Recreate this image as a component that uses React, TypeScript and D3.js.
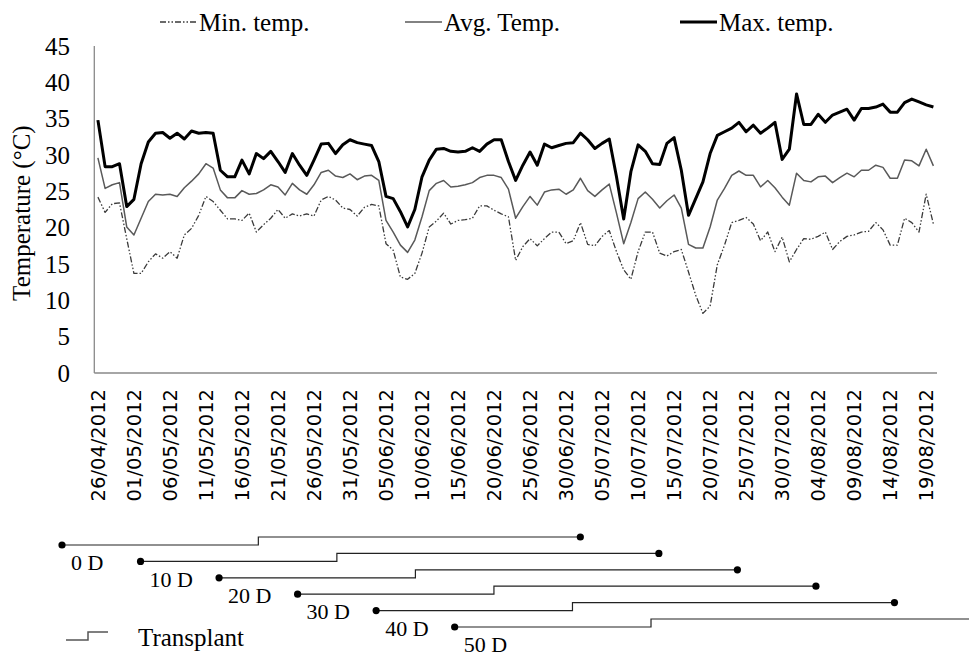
import * as d3 from "d3";

// daily series, 26/04/2012 .. 20/08/2012
const maxTemp = [
  34.8, 28.4, 28.4, 28.8, 22.9, 23.9, 28.8, 31.8, 33.0, 33.1, 32.3, 33.0, 32.2, 33.3, 33.0, 33.1, 33.0, 27.9, 27.0, 27.0,
  29.3, 27.4, 30.2, 29.5, 30.5, 29.1, 27.6, 30.2, 28.6, 27.2, 29.3, 31.5, 31.6, 30.2, 31.4, 32.1, 31.7, 31.5, 31.3, 29.1,
  24.3, 24.0, 22.2, 20.1, 22.5, 27.0, 29.3, 30.8, 30.9, 30.5, 30.4, 30.5, 31.0, 30.5, 31.5, 32.1, 32.1, 29.1, 26.5, 28.6,
  30.4, 28.6, 31.5, 31.0, 31.3, 31.6, 31.7, 33.0, 32.1, 30.9, 31.6, 32.2, 27.0, 21.2, 27.7, 31.4, 30.5, 28.8, 28.7, 31.6,
  32.4, 27.9, 21.7, 24.0, 26.3, 30.2, 32.7, 33.2, 33.7, 34.5, 33.2, 34.1, 33.0, 33.7, 34.5, 29.4, 30.8, 38.4, 34.2, 34.2,
  35.6, 34.5, 35.5, 35.9, 36.3, 34.8, 36.4, 36.4, 36.6, 37.0, 35.9, 35.9, 37.2, 37.7, 37.3, 36.9, 36.6,
];

const avgTemp = [
  29.6, 25.4, 25.9, 26.2, 20.1, 19.0, 21.3, 23.6, 24.6, 24.5, 24.6, 24.3, 25.5, 26.4, 27.4, 28.8, 28.2, 25.2, 24.1, 24.1,
  25.1, 24.6, 24.7, 25.2, 25.9, 25.6, 24.5, 26.1, 25.2, 24.6, 25.9, 27.6, 27.9, 27.1, 26.9, 27.4, 26.6, 27.1, 27.2, 26.5,
  21.0, 19.4, 17.6, 16.6, 18.3, 21.5, 25.1, 26.1, 26.5, 25.6, 25.7, 25.9, 26.2, 26.9, 27.2, 27.2, 26.9, 25.3, 21.3, 22.9,
  24.3, 23.1, 24.9, 25.2, 25.3, 24.6, 25.2, 26.8, 25.1, 24.3, 25.2, 26.0, 22.0, 17.8, 20.7, 24.0, 24.9, 23.9, 22.7, 23.7,
  24.5, 22.7, 17.7, 17.2, 17.2, 20.1, 23.8, 25.4, 27.2, 27.8, 27.2, 27.2, 25.6, 26.5, 25.5, 24.2, 23.1, 27.5, 26.5, 26.3,
  27.0, 27.1, 26.2, 26.9, 27.5, 27.0, 27.9, 27.9, 28.6, 28.3, 26.8, 26.8, 29.3, 29.2, 28.5, 30.8, 28.5,
];

const minTemp = [
  24.2, 22.1, 23.3, 23.4, 18.5, 13.7, 13.7, 15.3, 16.4, 15.8, 16.7, 15.8, 19.0, 19.9, 21.7, 24.3, 23.6, 22.4, 21.2, 21.2,
  21.0, 22.0, 19.4, 20.4, 21.3, 22.5, 21.3, 21.9, 21.6, 21.9, 21.6, 23.8, 24.3, 23.8, 22.7, 22.5, 21.6, 22.8, 23.2, 23.0,
  17.8, 16.9, 13.2, 12.9, 13.7, 16.5, 20.1, 20.9, 22.0, 20.5, 21.0, 21.1, 21.3, 23.0, 23.0, 22.4, 21.9, 21.5, 15.5, 17.4,
  18.5, 17.5, 18.5, 19.4, 19.4, 17.8, 18.2, 20.7, 17.7, 17.5, 18.8, 19.6, 16.7, 14.2, 12.9, 16.7, 19.4, 19.4, 16.5, 16.1,
  16.7, 17.0, 13.9, 10.7, 8.2, 9.2, 14.9, 17.6, 20.7, 21.0, 21.4, 20.5, 18.2, 19.4, 16.7, 18.7, 15.3, 17.0, 18.5, 18.4,
  18.8, 19.4, 17.0, 18.1, 18.8, 19.0, 19.4, 19.5, 20.7, 19.7, 17.6, 17.6, 21.3, 20.7, 19.4, 24.6, 20.5,
];

const tickLabels = [
  "26/04/2012", "01/05/2012", "06/05/2012", "11/05/2012", "16/05/2012", "21/05/2012",
  "26/05/2012", "31/05/2012", "05/06/2012", "10/06/2012", "15/06/2012", "20/06/2012",
  "25/06/2012", "30/06/2012", "05/07/2012", "10/07/2012", "15/07/2012", "20/07/2012",
  "25/07/2012", "30/07/2012", "04/08/2012", "09/08/2012", "14/08/2012", "19/08/2012",
];

const yTicks = [0, 5, 10, 15, 20, 25, 30, 35, 40, 45];

// transplant schedule (days from first sowing)
const sowingLabels = ["0 D", "10 D", "20 D", "30 D", "40 D", "50 D"];
const sowingDay = [0, 10, 20, 30, 40, 50];
const transplantAfter = 25;
const endAfter = 66;

const W = 969;
const H = 657;
const serif = "'Liberation Serif', 'Times New Roman', serif";
const fs = 25;

const parse = d3.timeParse("%d/%m/%Y");
const startDate = parse(tickLabels[0]) as Date;

export default function App() {
  const idx = d3.range(maxTemp.length);
  const x = d3.scalePoint<number>().domain(idx).range([94.3, 937]).padding(0.5);
  const y = d3.scaleLinear().domain([0, 45]).range([373, 46]);

  const line = d3
    .line<number>()
    .x((_d, i) => x(i) as number)
    .y((d) => y(d));

  const series = [
    { label: "Min. temp.", data: minTemp, stroke: "#3a3a3a", width: 1.3, dash: "6,2,1.5,2,1.5,2", lx: 160 },
    { label: "Avg. Temp.", data: avgTemp, stroke: "#595959", width: 1.5, dash: undefined, lx: 405 },
    { label: "Max. temp.", data: maxTemp, stroke: "#000000", width: 3, dash: undefined, lx: 680 },
  ];

  const d = d3.scaleLinear().domain([0, 116]).range([62, 973]);
  const rowY = (i: number) => 545 + i * 16.4;

  return (
    <svg
      width={W}
      height={H}
      style={{ position: "absolute", left: 0, top: 0, background: "#fff" }}
      fontFamily={serif}
    >
      {/* legend */}
      {series.map((s) => (
        <g key={s.label}>
          <line
            x1={s.lx}
            x2={s.lx + 37}
            y1={22}
            y2={22}
            stroke={s.stroke}
            strokeWidth={s.width}
            strokeDasharray={s.dash}
          />
          <text x={s.lx + 39} y={22} dy="0.35em" fontSize={fs}>
            {s.label}
          </text>
        </g>
      ))}

      {/* y axis */}
      {yTicks.map((t) => (
        <text key={t} x={70} y={y(t)} dy="0.35em" textAnchor="end" fontSize={fs}>
          {t}
        </text>
      ))}
      <text
        transform={`translate(21,${y(22)}) rotate(-90)`}
        textAnchor="middle"
        dy="0.35em"
        fontSize={fs}
      >
        {"Temperature  (°C)"}
      </text>
      <line x1={94.3} x2={94.3} y1={y(45)} y2={y(0)} stroke="#898989" strokeWidth={1.3} />
      <line x1={94.3} x2={937} y1={y(0)} y2={y(0)} stroke="#898989" strokeWidth={1.3} />

      {/* x tick labels */}
      {tickLabels.map((lab) => {
        const i = d3.timeDay.count(startDate, parse(lab) as Date);
        return (
          <text
            key={lab}
            transform={`translate(${x(i)},389) rotate(-90)`}
            textAnchor="end"
            dy="0.36em"
            fontSize={19.5}
            fontFamily="'DejaVu Sans', sans-serif"
          >
            {lab}
          </text>
        );
      })}

      {/* series */}
      {series.map((s) => (
        <path
          key={s.label}
          d={line(s.data) ?? ""}
          fill="none"
          stroke={s.stroke}
          strokeWidth={s.width}
          strokeDasharray={s.dash}
          strokeLinejoin="round"
        />
      ))}

      {/* transplant schedule */}
      {sowingDay.map((sd, i) => {
        const y0 = rowY(i);
        const y1 = y0 - 8;
        const xs = d(sd);
        const xt = d(sd + transplantAfter);
        const xe = d(sd + endAfter);
        return (
          <g key={sd}>
            <path
              d={`M${xs},${y0}H${xt}V${y1}H${xe}`}
              fill="none"
              stroke="#222"
              strokeWidth={1.2}
            />
            <circle cx={xs} cy={y0} r={3.6} fill="#000" />
            <circle cx={xe} cy={y1} r={3.6} fill="#000" />
            <text x={xs + 9} y={y0 + 18} dy="0.33em" fontSize={22}>
              {sowingLabels[i]}
            </text>
          </g>
        );
      })}
      <path d="M66,640H88V632H108" fill="none" stroke="#555" strokeWidth={1.5} />
      <text x={138} y={637} dy="0.35em" fontSize={fs}>
        Transplant
      </text>
    </svg>
  );
}
